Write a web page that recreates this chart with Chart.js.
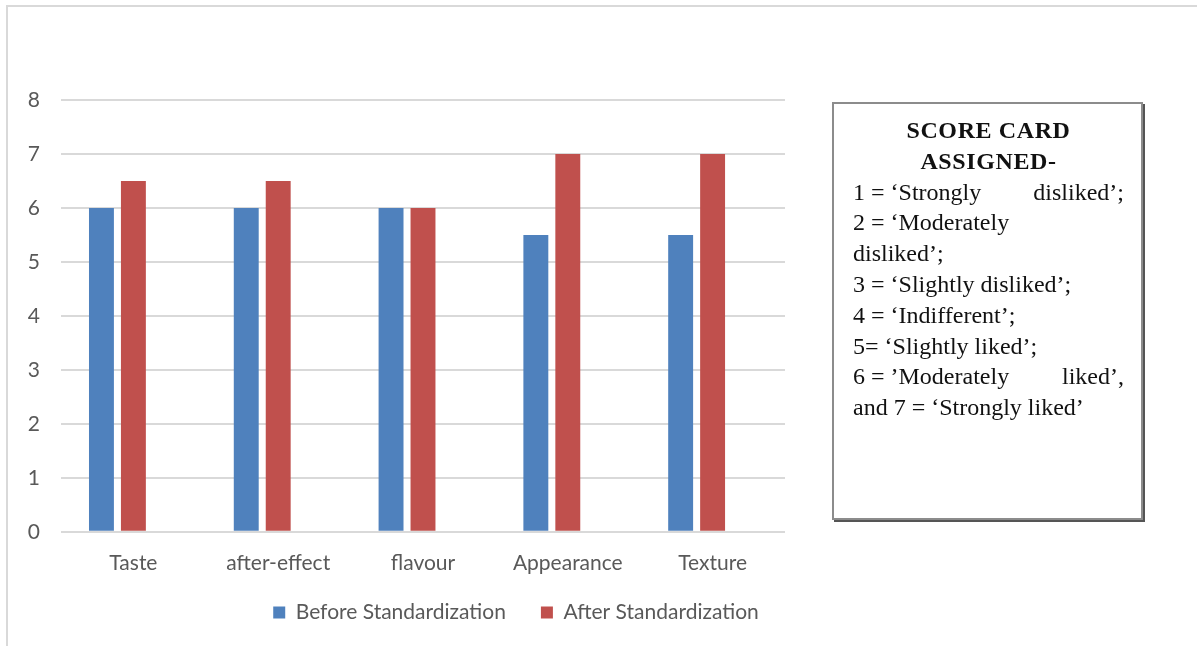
<!DOCTYPE html>
<html>
<head>
<meta charset="utf-8">
<script src="https://cdn.jsdelivr.net/npm/chart.js@4.4.1/dist/chart.umd.min.js"></script>
<style>
  html, body { margin: 0; padding: 0; background: #fff; overflow: hidden; width: 1197px; height: 646px; }
  .frame { position: absolute; left: 6px; top: 5px; width: 1191px; height: 641px; border-top: 2px solid #d9d9d9; border-left: 2px solid #d9d9d9; }
  .chart-wrap { position: absolute; left: 0; top: 0; width: 1032px; height: 653px; }
  .score-card {
    position: absolute; left: 832px; top: 102px; width: 311px; height: 418px; box-sizing: border-box;
    border: 2px solid #8c8c8c; box-shadow: 2px 2px 0 #555;
    font-family: "Liberation Serif", "Times New Roman", serif; font-size: 24px; line-height: 30.8px; color: #111;
    padding: 11px 17px 0 19px;
  }
  .score-card .head { font-weight: bold; text-align: center; letter-spacing: 0.6px; }
  .score-card .row { display: flex; justify-content: space-between; }
</style>
</head>
<body>
<div class="frame"></div>
<div class="chart-wrap"><canvas id="chart" width="1032" height="653"></canvas></div>
<div class="score-card">
  <div class="head">SCORE CARD<br>ASSIGNED-</div>
  <div class="row"><span>1 = ‘Strongly</span><span>disliked’;</span></div>
  <div>2 = ‘Moderately</div>
  <div>disliked’;</div>
  <div>3 = ‘Slightly disliked’;</div>
  <div>4 = ‘Indifferent’;</div>
  <div>5= ‘Slightly liked’;</div>
  <div class="row"><span>6 = ’Moderately</span><span>liked’,</span></div>
  <div>and 7 = ‘Strongly liked’</div>
</div>
<script>
const categories = ['Taste', 'after-effect', 'flavour', 'Appearance', 'Texture'];
const beforeValues = [6, 6, 6, 5.5, 5.5];
const afterValues = [6.5, 6.5, 6, 7, 7];
const emptySeries = [null, null, null, null, null];
const yTicks = { min: 0, max: 8, step: 1 };

const labelColor = '#595959';
const font = { family: 'Lato, "Open Sans", sans-serif', size: 21 };

// pull the legend up, its item padding also pads it vertically
const legendLift = {
    id: 'legendLift',
    afterLayout(chart) {
        chart.legend.top -= 20;
        chart.legend.bottom -= 20;
    }
};

const ctx = document.getElementById('chart').getContext('2d');
new Chart(ctx, {
    type: 'bar',
    data: {
        labels: categories,
        datasets: [
            { label: 'Before Standardization', data: beforeValues, backgroundColor: '#4F81BD', borderWidth: 0 },
            { label: 'After Standardization', data: afterValues, backgroundColor: '#C0504D', borderWidth: 0 },
            // Excel kept an empty third series slot, which shifts the pairs left
            { label: '', data: emptySeries, backgroundColor: 'rgba(0,0,0,0)', borderWidth: 0 }
        ]
    },
    options: {
        responsive: false,
        animation: false,
        categoryPercentage: 0.662,
        barPercentage: 0.78,
        layout: { padding: { top: 100, left: 10, right: 10, bottom: 0 } },
        plugins: {
            tooltip: { enabled: false },
            legend: {
                position: 'bottom',
                labels: {
                    color: labelColor,
                    font: font,
                    boxWidth: 12,
                    boxHeight: 12,
                    padding: 35,
                    filter: (item) => item.text !== ''
                }
            }
        },
        scales: {
            x: {
                grid: { display: false },
                border: { display: false },
                ticks: { color: labelColor, font: font, padding: 11, maxRotation: 0 }
            },
            y: {
                min: yTicks.min,
                max: yTicks.max,
                ticks: { stepSize: yTicks.step, color: labelColor, font: font, padding: 21 },
                grid: { color: '#d9d9d9', lineWidth: 2, drawTicks: false },
                border: { display: false },
                afterFit: (s) => { s.width = 51; }
            },
            y2: {
                position: 'right',
                grid: { display: false },
                border: { display: false },
                ticks: { display: false },
                afterFit: (s) => { s.width = 237; }
            }
        }
    },
    plugins: [legendLift]
});
</script>
</body>
</html>
